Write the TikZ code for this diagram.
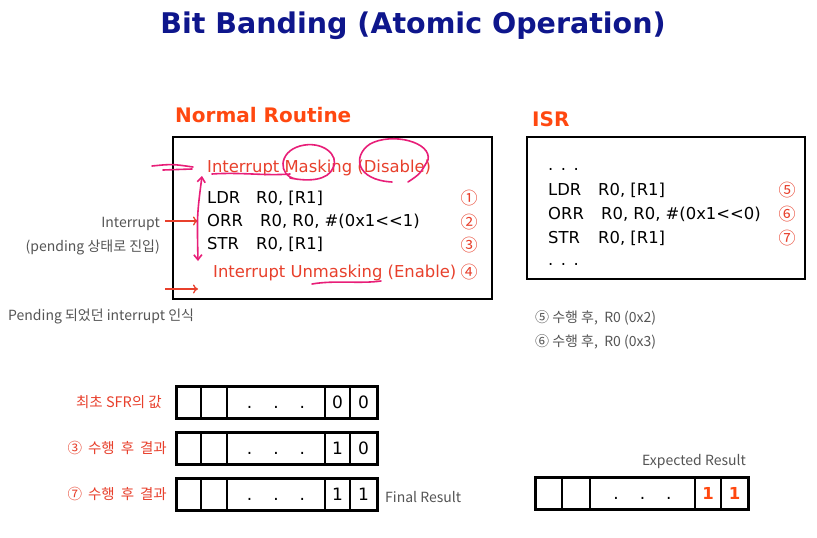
\documentclass[tikz,border=0pt]{standalone}
\usepackage{fontspec}
\setmainfont{DejaVu Sans}
\newfontfamily\kr{Noto Sans CJK KR}
\usetikzlibrary{arrows.meta}
\definecolor{ttlblue}{RGB}{14,22,140}
\definecolor{headorange}{RGB}{255,72,16}
\definecolor{codered}{RGB}{232,64,44}
\definecolor{txtgray}{RGB}{85,85,85}
\definecolor{inkpink}{RGB}{232,30,120}
\newcommand{\regdots}{.\hspace{21pt}.\hspace{21pt}.}
\newcommand{\isrdots}{.\hspace{7.5pt}.\hspace{7.5pt}.}
\newcommand{\regrow}[5]{%
  \node[cell,minimum width=25pt,anchor=north west] (#1a) at (#2,#3) {};
  \node[cell,minimum width=26pt,anchor=west] (#1b) at (#1a.east) {};
  \node[cell,minimum width=98pt,anchor=west] (#1c) at (#1b.east) {\regdots};
  \node[cell,minimum width=25pt,anchor=west] (#1d) at (#1c.east) {#4};
  \node[cell,minimum width=27pt,anchor=west] (#1e) at (#1d.east) {#5};
  \draw[regframe] (#1a.north west) rectangle (#1e.south east);
}
\begin{document}
\begin{tikzpicture}[x=1pt,y=-1pt,
  lbl/.style={inner sep=0pt, font=\kr\fontsize{14}{17}\selectfont, text=txtgray},
  code/.style={inner sep=0pt, anchor=base west, font=\fontsize{16.4}{19}\selectfont, text=black},
  redcode/.style={code, text=codered},
  num/.style={inner sep=0pt, anchor=base, font=\kr\fontsize{17}{19}\selectfont, text=codered},
  head/.style={inner sep=0pt, anchor=base west, font=\bfseries\fontsize{20}{24}\selectfont, text=headorange},
  panel/.style={draw=black, line width=2.2pt, inner sep=0pt, outer sep=0pt, anchor=north west},
  cell/.style={draw=black, line width=2.4pt, minimum height=32pt, inner sep=0pt, outer sep=0pt, text height=12pt, text depth=0pt, font=\fontsize{17}{19}\selectfont},
  regframe/.style={draw=black, line width=3pt},
  rowlbl/.style={inner sep=0pt, anchor=east, font=\kr\fontsize{14.5}{17}\selectfont, text=codered},
  redarrow/.style={color=codered, line width=1.3pt, -{To[length=5pt,width=9pt]}},
  ink/.style={draw=inkpink, line width=1.6pt, line cap=round, line join=round},
]
\useasboundingbox (0,0) rectangle (817,538);
\fill[white] (0,0) rectangle (817,538);

% title and headings
\node[inner sep=0pt, anchor=base, font=\bfseries\fontsize{28.5}{32}\selectfont, text=ttlblue] (title) at (413,34) {Bit Banding (Atomic Operation)};
\node[head] (nrh) at (175,122) {Normal Routine};
\node[head] (isrh) at (532,126) {ISR};

% panels
\node[panel, minimum width=319pt, minimum height=162pt] (nbox) at (173,137) {};
\node[panel, minimum width=278pt, minimum height=142pt] (ibox) at (527,137) {};

% normal routine code
\node[redcode] (mask) at (207,172) {Interrupt Masking (Disable)};
\node[code] (l1) at (207,203) {\makebox[49pt][l]{LDR}R0, [R1]};
\node[code] (l2) at (207,226) {\makebox[53pt][l]{ORR}R0, R0, \#(0x1<{}<1)};
\node[code] (l3) at (207,249) {\makebox[49pt][l]{STR}R0, [R1]};
\node[redcode] (unmask) at (213,277) {Interrupt Unmasking (Enable)};
\node[num] (c1) at (469,204) {①};
\node[num] (c2) at (469,228) {②};
\node[num] (c3) at (469,251) {③};
\node[num] (c4) at (469,278) {④};

% ISR code
\node[code] (id1) at (548,170) {\isrdots};
\node[code] (i1) at (548,195) {\makebox[50pt][l]{LDR}R0, [R1]};
\node[code] (i2) at (548,219) {\makebox[53pt][l]{ORR}R0, R0, \#(0x1<{}<0)};
\node[code] (i3) at (548,243) {\makebox[50pt][l]{STR}R0, [R1]};
\node[code] (id2) at (548,265) {\isrdots};
\node[num] (c5) at (787,196) {⑤};
\node[num] (c6) at (787,220) {⑥};
\node[num] (c7) at (787,244) {⑦};

% gray labels
\node[lbl, anchor=base east] (intl) at (160,227) {Interrupt};
\node[lbl, anchor=base east] (pendl) at (160,251) {(pending 상태로 진입)};
\node[lbl, anchor=base west] (recog) at (8,320) {Pending 되었던 interrupt 인식};
\node[lbl, anchor=base west] (r5) at (535,322) {⑤ 수행 후,\ \ R0 (0x2)};
\node[lbl, anchor=base west] (r6) at (535,346) {⑥ 수행 후,\ \ R0 (0x3)};

% red arrows
\coordinate (a1s) at (165,221);
\coordinate (a1e) at (198,221);
\coordinate (a2s) at (165,289);
\coordinate (a2e) at (198,289);
\draw[redarrow] (a1s) -- (a1e);
\draw[redarrow] (a2s) -- (a2e);

% pink handwriting
\draw[ink] (152,166) .. controls (172,164) .. (193,167);
\draw[ink] (163,170) .. controls (178,169) .. (192,169);
\coordinate (dtop) at (202,176);
\coordinate (dbot) at (198,261);
\draw[ink, {Straight Barb[length=5pt,width=8pt]}-{Straight Barb[length=5pt,width=8pt]}] (dtop) .. controls (197,215) .. (dbot);
\draw[ink] (212,174) .. controls (240,172) and (265,176) .. (290,174);
\draw[ink] (296,179) .. controls (278,176) and (278,152) .. (300,146) .. controls (322,140) and (340,155) .. (333,168) .. controls (328,180) and (310,182) .. (290,178);
\draw[ink] (408,182) .. controls (420,174) .. (428,160) .. controls (432,142) and (392,132) .. (370,144) .. controls (352,156) and (356,180) .. (392,182);
\draw[ink] (312,284) .. controls (335,280) and (360,284) .. (381,281);

% registers
\regrow{ra}{176}{386}{0}{0}
\regrow{rb}{176}{432}{1}{0}
\regrow{rc}{176}{478}{1}{1}
\node[rowlbl] (lb1) at (162,402) {최초 SFR의 값};
\node[rowlbl] (lb2) at (167,448) {③\hspace{6pt}수행\hspace{6pt}후\hspace{6pt}결과};
\node[rowlbl] (lb3) at (167,494) {⑦\hspace{6pt}수행\hspace{6pt}후\hspace{6pt}결과};
\node[lbl, anchor=west] (fin) at (385,497) {Final Result};

% expected
\node[lbl, anchor=east] (exp) at (746,462) {Expected Result};
\node[cell,minimum width=27pt,anchor=north west] (xa) at (535,477) {};
\node[cell,minimum width=28pt,anchor=west] (xb) at (xa.east) {};
\node[cell,minimum width=105pt,anchor=west] (xc) at (xb.east) {\regdots};
\node[cell,minimum width=26pt,anchor=west,text=headorange,font=\bfseries\fontsize{16.5}{19}\selectfont] (xd) at (xc.east) {1};
\node[cell,minimum width=27pt,anchor=west,text=headorange,font=\bfseries\fontsize{16.5}{19}\selectfont] (xe) at (xd.east) {1};
\draw[regframe] (xa.north west) rectangle (xe.south east);
\end{tikzpicture}
\end{document}
